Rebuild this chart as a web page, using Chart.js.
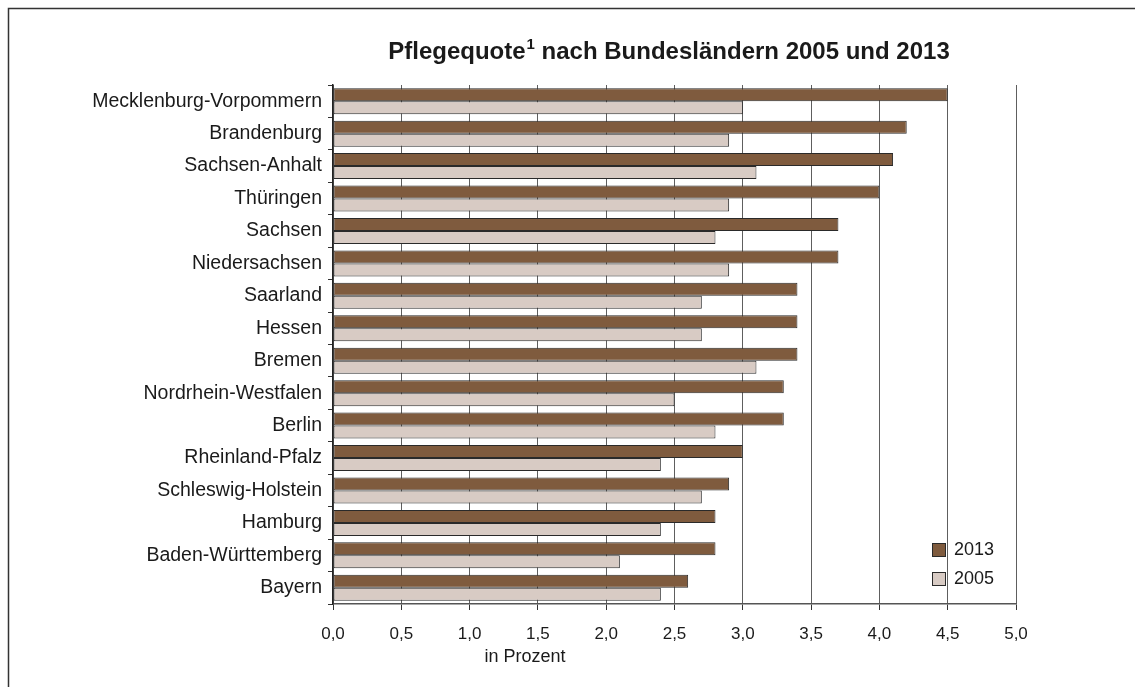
<!DOCTYPE html>
<html>
<head>
<meta charset="utf-8">
<script src="https://cdn.jsdelivr.net/npm/chart.js@4"></script>
<style>
	html, body { margin: 0; padding: 0; background: #fff; }
	#wrap { width: 1135px; height: 687px; position: relative; }
</style>
</head>
<body>
<div id="wrap"><canvas id="chart"></canvas></div>
<script>
(function () {
	'use strict';

	/* ---------- Data ---------- */

	var LAENDER = [
		'Mecklenburg-Vorpommern', 'Brandenburg', 'Sachsen-Anhalt', 'Thüringen',
		'Sachsen', 'Niedersachsen', 'Saarland', 'Hessen', 'Bremen',
		'Nordrhein-Westfalen', 'Berlin', 'Rheinland-Pfalz', 'Schleswig-Holstein',
		'Hamburg', 'Baden-Württemberg', 'Bayern'
	];
	var QUOTE_2013 = [4.5, 4.2, 4.1, 4.0, 3.7, 3.7, 3.4, 3.4, 3.4, 3.3, 3.3, 3.0, 2.9, 2.8, 2.8, 2.6];
	var QUOTE_2005 = [3.0, 2.9, 3.1, 2.9, 2.8, 2.9, 2.7, 2.7, 3.1, 2.5, 2.8, 2.4, 2.7, 2.4, 2.1, 2.4];
	var X_TICKS = ['0,0', '0,5', '1,0', '1,5', '2,0', '2,5', '3,0', '3,5', '4,0', '4,5', '5,0'];

	var FONT = '"Liberation Sans", Arial, sans-serif';
	var COLORS = {
		y2013: '#7f5b3e',
		y2005: '#d8cbc4',
		edge: '#2a2a2a',
		grid: '#5e5e5e',
		text: '#1a1a1a'
	};

	/* ---------- Custom drawing: frame, title, legend, axis caption ---------- */

	var decorPlugin = {
		id: 'decor',
		afterDraw: function (chart) {
			var ctx = chart.ctx;
			ctx.save();

			// outer frame (only top and left edges visible)
			ctx.strokeStyle = '#333';
			ctx.lineWidth = 1.5;
			ctx.beginPath();
			ctx.moveTo(8.5, 700);
			ctx.lineTo(8.5, 8.5);
			ctx.lineTo(1140, 8.5);
			ctx.stroke();

			// title with superscript
			ctx.fillStyle = COLORS.text;
			ctx.textBaseline = 'alphabetic';
			var t1 = 'Pflegequote';
			var sup = '1';
			var t2 = ' nach Bundesländern 2005 und 2013';
			ctx.font = 'bold 24px ' + FONT;
			var w1 = ctx.measureText(t1).width;
			var w3 = ctx.measureText(t2).width;
			ctx.font = 'bold 15px ' + FONT;
			var w2 = ctx.measureText(sup).width + 1;
			var x = 669 - (w1 + w2 + w3) / 2;
			var y = 59;
			ctx.font = 'bold 24px ' + FONT;
			ctx.fillText(t1, x, y);
			ctx.font = 'bold 15px ' + FONT;
			ctx.fillText(sup, x + w1 + 1, y - 10);
			ctx.font = 'bold 24px ' + FONT;
			ctx.fillText(t2, x + w1 + w2, y);

			// x axis caption
			ctx.font = '18px ' + FONT;
			ctx.textAlign = 'center';
			ctx.textBaseline = 'middle';
			ctx.fillText('in Prozent', 525, 657);

			// legend inside plot area
			var sets = chart.data.datasets;
			ctx.textAlign = 'left';
			sets.forEach(function (ds, k) {
				var ly = 550 + k * 29;
				ctx.fillStyle = ds.backgroundColor;
				ctx.fillRect(932, ly - 7, 14, 14);
				ctx.strokeStyle = COLORS.edge;
				ctx.lineWidth = 1;
				ctx.strokeRect(932.5, ly - 6.5, 13, 13);
				ctx.fillStyle = COLORS.text;
				ctx.font = '18px ' + FONT;
				ctx.fillText(ds.label, 954, ly);
			});

			ctx.restore();
		}
	};

	/* ---------- Chart ---------- */

	new Chart(document.getElementById('chart'), {
		type: 'bar',
		data: {
			labels: LAENDER,
			datasets: [
				{
					label: '2013',
					data: QUOTE_2013,
					backgroundColor: COLORS.y2013,
					borderColor: COLORS.edge,
					borderWidth: 1,
					borderSkipped: false,
					categoryPercentage: 0.8,
					barPercentage: 1.0
				},
				{
					label: '2005',
					data: QUOTE_2005,
					backgroundColor: COLORS.y2005,
					borderColor: COLORS.edge,
					borderWidth: 1,
					borderSkipped: false,
					categoryPercentage: 0.8,
					barPercentage: 1.0
				}
			]
		},
		options: {
			indexAxis: 'y',
			responsive: true,
			maintainAspectRatio: false,
			animation: false,
			devicePixelRatio: 1,
			layout: { padding: { left: 8, right: 119, top: 85, bottom: 0 } },
			scales: {
				x: {
					min: 0,
					max: 5,
					afterBuildTicks: function (scale) {
						scale.ticks = X_TICKS.map(function (t, i) { return { value: i * 0.5 }; });
					},
					afterFit: function (scale) { scale.height = 83; },
					ticks: {
						callback: function (v, i) { return X_TICKS[i]; },
						color: COLORS.text,
						font: { family: FONT, size: 17 },
						padding: 14,
						maxRotation: 0
					},
					grid: {
						color: COLORS.grid,
						lineWidth: 1,
						tickLength: 6,
						tickColor: '#333'
					},
					border: { color: '#555', width: 1.5 }
				},
				y: {
					afterFit: function (scale) { scale.width = 325; },
					ticks: {
						color: COLORS.text,
						font: { family: FONT, size: 19.5 },
						padding: 6,
						autoSkip: false
					},
					grid: {
						drawOnChartArea: false,
						offset: true,
						tickLength: 5,
						tickColor: '#333'
					},
					border: { color: '#222', width: 1.5 }
				}
			},
			plugins: {
				legend: { display: false },
				tooltip: { enabled: false },
				title: { display: false }
			}
		},
		plugins: [decorPlugin]
	});
})();
</script>
</body>
</html>
